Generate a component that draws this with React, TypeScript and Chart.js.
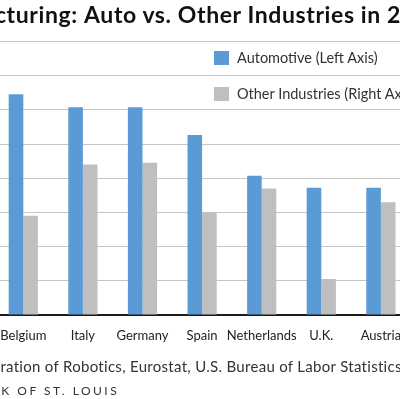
import React, { useEffect, useRef } from "react";
import { Chart, registerables } from "chart.js";

Chart.register(...registerables);

const categories = ["Belgium", "Italy", "Germany", "Spain", "Netherlands", "U.K.", "Austria"];
const automotive = [1291, 1215, 1215, 1053, 815, 745, 745];
const otherIndustries = [58, 88, 89, 60, 74, 21, 66];
const leftAxisMax = 1600;
const leftAxisStep = 200;
const rightAxisMax = 160;
const rightAxisStep = 20;

const seriesNames = ["Automotive (Left Axis)", "Other Industries (Right Axis)"];
const titleText = ["Robots in Manufacturing: ", "Auto vs. Other Industries in 2014"];
const sourceText = ["Source: International Federation of Robotics, ", "Eurostat, U.S. Bureau of Labor Statistics and author's calculations."];
const footerText = ["FEDERAL RESERVE BANK OF ", "ST. LOUIS"];

const BLUE = "#5b9bd5";
const GRAY = "#c0bfbf";
const FONT = "Lato, 'Open Sans', sans-serif";

function Anchored({ parts, x, y, style }: { parts: string[]; x: number; y: number; style: React.CSSProperties }) {
  return (
    <div style={{ position: "absolute", left: x, top: y, whiteSpace: "pre", ...style }}>
      <span style={{ position: "absolute", right: "100%", top: 0, whiteSpace: "pre" }}>{parts[0]}</span>
      <span>{parts[1]}</span>
    </div>
  );
}

export default function App() {
  const ref = useRef<HTMLCanvasElement | null>(null);
  useEffect(() => {
    if (!ref.current) return;
    const chart = new Chart(ref.current, {
      type: "bar",
      data: {
        labels: categories,
        datasets: [
          { label: seriesNames[0], data: automotive, backgroundColor: BLUE, yAxisID: "y", categoryPercentage: 0.49, barPercentage: 1.0 },
          { label: seriesNames[1], data: otherIndustries, backgroundColor: GRAY, yAxisID: "y1", categoryPercentage: 0.49, barPercentage: 1.0 },
        ],
      },
      options: {
        responsive: false,
        animation: false,
        devicePixelRatio: 1,
        layout: { padding: { left: 13.5, right: 9.3, top: 41.5, bottom: 44 } },
        plugins: { legend: { display: false }, title: { display: false }, tooltip: { enabled: false } },
        scales: {
          x: {
            grid: { display: false, drawTicks: false },
            border: { display: true, color: "#1a1a1a", width: 2 },
            ticks: { color: "#222", font: { family: FONT, size: 13 }, padding: 13, maxRotation: 0, autoSkip: false },
            afterFit: (s: any) => { s.height = 40; },
          },
          y: {
            position: "left",
            min: 0,
            max: leftAxisMax,
            ticks: { display: false, stepSize: leftAxisStep },
            grid: { color: "#c6c6c6", lineWidth: 1, drawTicks: false },
            border: { display: false },
            afterFit: (s: any) => { s.width = 0; },
          },
          y1: {
            position: "right",
            min: 0,
            max: rightAxisMax,
            ticks: { display: false, stepSize: rightAxisStep },
            grid: { drawOnChartArea: false, drawTicks: false },
            border: { display: false },
            afterFit: (s: any) => { s.width = 0; },
          },
        },
      },
    });
    return () => chart.destroy();
  }, []);

  return (
    <div style={{ position: "fixed", left: 0, top: 0, width: 400, height: 399, overflow: "hidden", background: "#fff", fontFamily: FONT }}>
      <canvas ref={ref} width={440} height={399} style={{ position: "absolute", left: -20, top: 0, width: 440, height: 399 }} />
      <Anchored parts={titleText} x={84} y={-1} style={{ fontSize: 23, fontWeight: 700, color: "#111", lineHeight: "30px", letterSpacing: "0.6px" }} />
      <div style={{ position: "absolute", left: 214, top: 51, width: 15, height: 14, background: BLUE }} />
      <div style={{ position: "absolute", left: 237, top: 49, fontSize: 14.5, color: "#333", lineHeight: "18px", whiteSpace: "nowrap" }}>{seriesNames[0]}</div>
      <div style={{ position: "absolute", left: 214, top: 87, width: 15, height: 14, background: GRAY }} />
      <div style={{ position: "absolute", left: 237, top: 85, fontSize: 14.5, color: "#333", lineHeight: "18px", whiteSpace: "nowrap" }}>{seriesNames[1]}</div>
      <Anchored parts={sourceText} x={130} y={356} style={{ fontSize: 15, color: "#333", lineHeight: "20px", letterSpacing: "0.3px" }} />
      <Anchored parts={footerText} x={44} y={384} style={{ fontSize: 12, color: "#333", lineHeight: "14px", letterSpacing: "2.5px" }} />
    </div>
  );
}
